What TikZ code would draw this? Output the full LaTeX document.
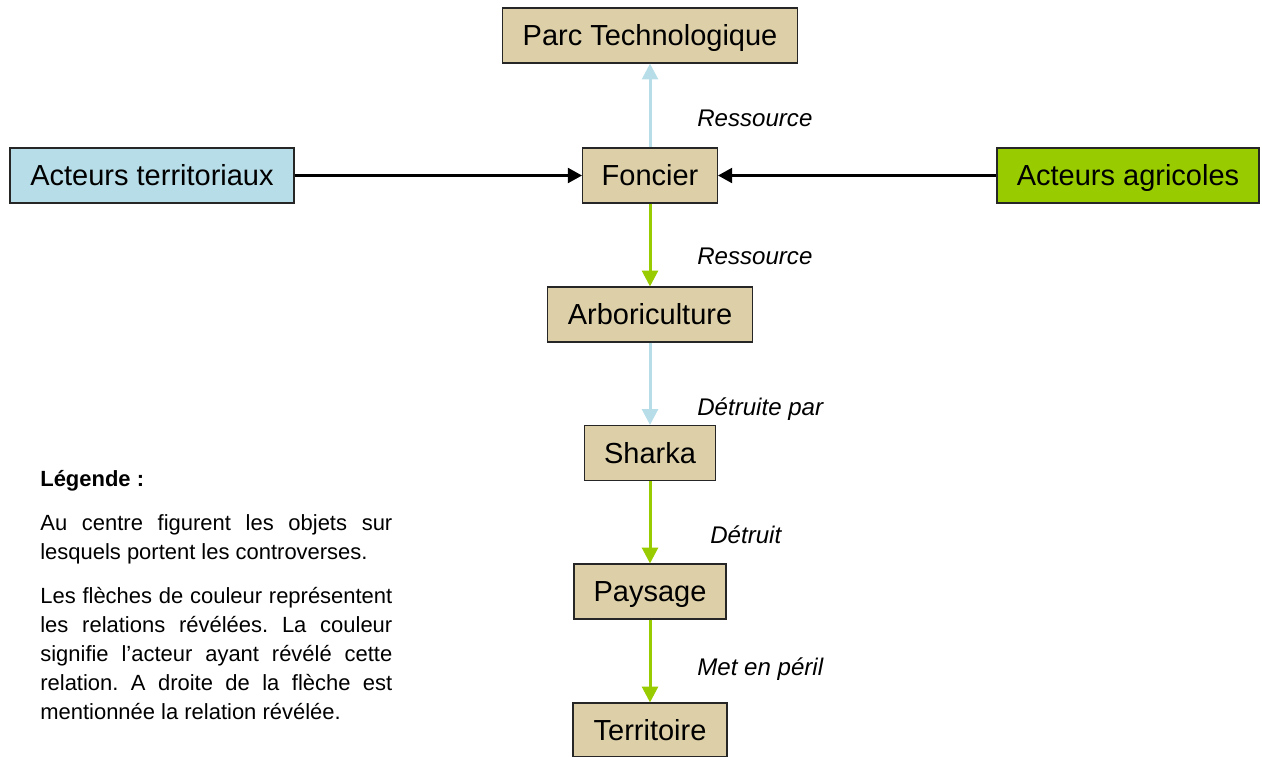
\documentclass[tikz,border=0pt]{standalone}
\usepackage{fontspec}
\setmainfont{Liberation Sans}
\usetikzlibrary{arrows.meta}
\definecolor{tan}{HTML}{DDD0A8}
\definecolor{bleu}{HTML}{B7DEE8}
\definecolor{vert}{HTML}{99CC00}
\begin{document}
\begin{tikzpicture}[
  objet/.style={draw=black!85,line width=0.6pt,fill=tan,rectangle,minimum height=1.1cm,inner sep=0pt,
    text height=12.8pt,text depth=1pt,font=\fontsize{16.5}{20}\selectfont},
  rel/.style={draw=#1,line width=1.7pt,-{Triangle[length=9pt,width=9pt]}},
  lien/.style={line width=1.3pt,-{Triangle[length=8pt,width=8.5pt]}},
  etiq/.style={anchor=west,inner sep=0pt,font=\fontsize{13.7}{16}\selectfont\itshape}]
\useasboundingbox (0,0) rectangle (25.24,-15.12);

\node[objet,minimum width=5.9cm] (parc) at (13,-0.71) {Parc Technologique};
\node[objet,minimum width=2.7cm] (foncier) at (13,-3.51) {Foncier};
\node[objet,fill=bleu,minimum width=5.68cm] (terr) at (3.04,-3.51) {Acteurs territoriaux};
\node[objet,fill=vert,minimum width=5.24cm] (agri) at (22.56,-3.51) {Acteurs agricoles};
\node[objet,minimum width=4.1cm] (arbo) at (13,-6.29) {Arboriculture};
\node[objet,minimum width=2.62cm] (sharka) at (13,-9.06) {Sharka};
\node[objet,minimum width=3.04cm] (paysage) at (13,-11.83) {Paysage};
\node[objet,minimum width=3.08cm,minimum height=1.08cm] (terri) at (13,-14.6) {Territoire};

\draw[rel=bleu] (foncier) -- (parc);
\draw[rel=vert] (foncier) -- (arbo);
\draw[rel=bleu] (arbo) -- (sharka);
\draw[rel=vert] (sharka) -- (paysage);
\draw[rel=vert] (paysage) -- (terri);
\draw[lien] (terr) -- (foncier);
\draw[lien] (agri) -- (foncier);

\node[etiq] (ress1) at (13.94,-2.36) {Ressource};
\node[etiq] (ress2) at (13.94,-5.12) {Ressource};
\node[etiq] (detpar) at (13.94,-8.18) {Détruite par};
\node[etiq] (det) at (14.2,-10.7) {Détruit};
\node[etiq] (peril) at (13.94,-13.38) {Met en péril};

% legende
\node[anchor=north west,inner sep=0pt,text width=7.04cm,align=justify,
  font=\fontsize{12.5}{16.5}\selectfont] (legende) at (0.8,-9.4)
  {\hyphenpenalty=10000\frenchspacing
   \textbf{Légende :}\par\vspace{8.5pt}
   Au centre figurent les objets sur\linebreak lesquels portent les controverses.\par\vspace{8.5pt}
   Les flèches de couleur représentent\linebreak les relations révélées. La couleur\linebreak
   signifie l’acteur ayant révélé cette\linebreak relation. A droite de la flèche est\linebreak
   mentionnée la relation révélée.};
\end{tikzpicture}
\end{document}
